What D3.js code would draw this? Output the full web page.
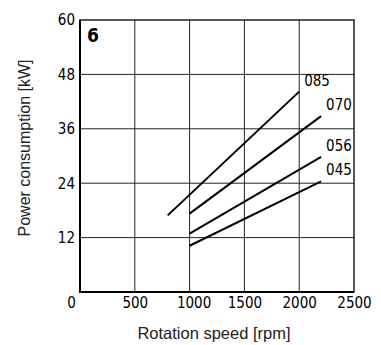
<!DOCTYPE html>
<html>
<head>
<meta charset="utf-8">
<script src="https://cdn.jsdelivr.net/npm/d3@7"></script>
<style>
  body { margin: 0; background: #fff; }
  svg { display: block; }
</style>
</head>
<body>
<div id="chart"></div>
<script>
// tick values
const xTicks = [0, 500, 1000, 1500, 2000, 2500];
const yTicks = [12, 24, 36, 48, 60];

// curves: pump size and [rpm, kW] endpoints
const seriesNames = ['085', '070', '056', '045'];
const seriesStart = [[800, 16.9], [1000, 17.3], [1000, 12.9], [1000, 10.2]];
const seriesEnd = [[2000, 44.2], [2200, 38.8], [2200, 29.8], [2200, 24.4]];

const width = 381;
const height = 345;
const margin = { top: 20, right: 27, bottom: 53, left: 80 };

const svg = d3
  .select('#chart')
  .append('svg')
  .attr('width', width)
  .attr('height', height);

const x = d3.scaleLinear().domain([0, 2500]).range([margin.left, width - margin.right]);
const y = d3.scaleLinear().domain([0, 60]).range([height - margin.bottom, margin.top]);

const tickFont = '"DejaVu Sans Condensed", "DejaVu Sans", sans-serif';
const titleFont = '"Liberation Sans", Arial, sans-serif';

// grid
const grid = svg.append('g').attr('stroke', '#222').attr('stroke-width', 1);
grid
  .selectAll('line.v')
  .data(xTicks.filter((d) => d > 0 && d < 2500))
  .enter()
  .append('line')
  .attr('x1', (d) => x(d))
  .attr('x2', (d) => x(d))
  .attr('y1', y(0))
  .attr('y2', y(60));
grid
  .selectAll('line.h')
  .data(yTicks.filter((d) => d < 60))
  .enter()
  .append('line')
  .attr('x1', x(0))
  .attr('x2', x(2500))
  .attr('y1', (d) => y(d))
  .attr('y2', (d) => y(d));

// frame
svg
  .append('rect')
  .attr('x', x(0))
  .attr('y', y(60))
  .attr('width', x(2500) - x(0))
  .attr('height', y(0) - y(60))
  .attr('fill', 'none')
  .attr('stroke', '#000')
  .attr('stroke-width', 1.3);
svg
  .append('path')
  .attr('d', `M${x(0)},${y(60)}V${y(0)}H${x(2500)}`)
  .attr('fill', 'none')
  .attr('stroke', '#000')
  .attr('stroke-width', 2);

// axes (labels only)
const xAxis = svg
  .append('g')
  .attr('transform', `translate(0,${y(0)})`)
  .call(d3.axisBottom(x).tickValues(xTicks).tickSize(0).tickPadding(5.5).tickFormat(d3.format('d')));
xAxis.select('.domain').remove();
xAxis
  .selectAll('text')
  .attr('font-family', tickFont)
  .attr('font-size', 15)
  .attr('fill', '#000')
  .attr('dx', (d) => (d === 0 ? -9 : d === 1000 ? 4 : 0));

const yAxis = svg
  .append('g')
  .attr('transform', `translate(${x(0)},0)`)
  .call(d3.axisLeft(y).tickValues(yTicks).tickSize(0).tickPadding(5).tickFormat(d3.format('d')));
yAxis.select('.domain').remove();
yAxis
  .selectAll('text')
  .attr('font-family', tickFont)
  .attr('font-size', 15)
  .attr('fill', '#000');

// curves
const series = seriesNames.map((name, i) => ({ name, pts: [seriesStart[i], seriesEnd[i]] }));
const line = d3
  .line()
  .x((d) => x(d[0]))
  .y((d) => y(d[1]));

svg
  .append('g')
  .selectAll('path')
  .data(series)
  .enter()
  .append('path')
  .attr('d', (d) => line(d.pts))
  .attr('fill', 'none')
  .attr('stroke', '#000')
  .attr('stroke-width', 2);

svg
  .append('g')
  .selectAll('text')
  .data(series)
  .enter()
  .append('text')
  .attr('x', (d) => x(d.pts[1][0]) + 5)
  .attr('y', (d) => y(d.pts[1][1]) - 6)
  .attr('font-family', tickFont)
  .attr('font-size', 15)
  .text((d) => d.name);

// panel number
svg
  .append('text')
  .attr('x', x(0) + 7)
  .attr('y', y(60) + 22)
  .attr('font-family', '"DejaVu Sans Condensed", "DejaVu Sans", sans-serif')
  .attr('font-weight', 'bold')
  .attr('font-size', 19)
  .text('6');

// titles
svg
  .append('text')
  .attr('x', (x(0) + x(2500)) / 2 - 3)
  .attr('y', 339)
  .attr('text-anchor', 'middle')
  .attr('font-family', titleFont)
  .attr('font-size', 16.5)
  .attr('fill', '#222')
  .text('Rotation speed [rpm]');

svg
  .append('text')
  .attr('transform', 'translate(30,148) rotate(-90)')
  .attr('text-anchor', 'middle')
  .attr('font-family', titleFont)
  .attr('font-size', 16)
  .attr('fill', '#222')
  .text('Power consumption [kW]');
</script>
</body>
</html>
